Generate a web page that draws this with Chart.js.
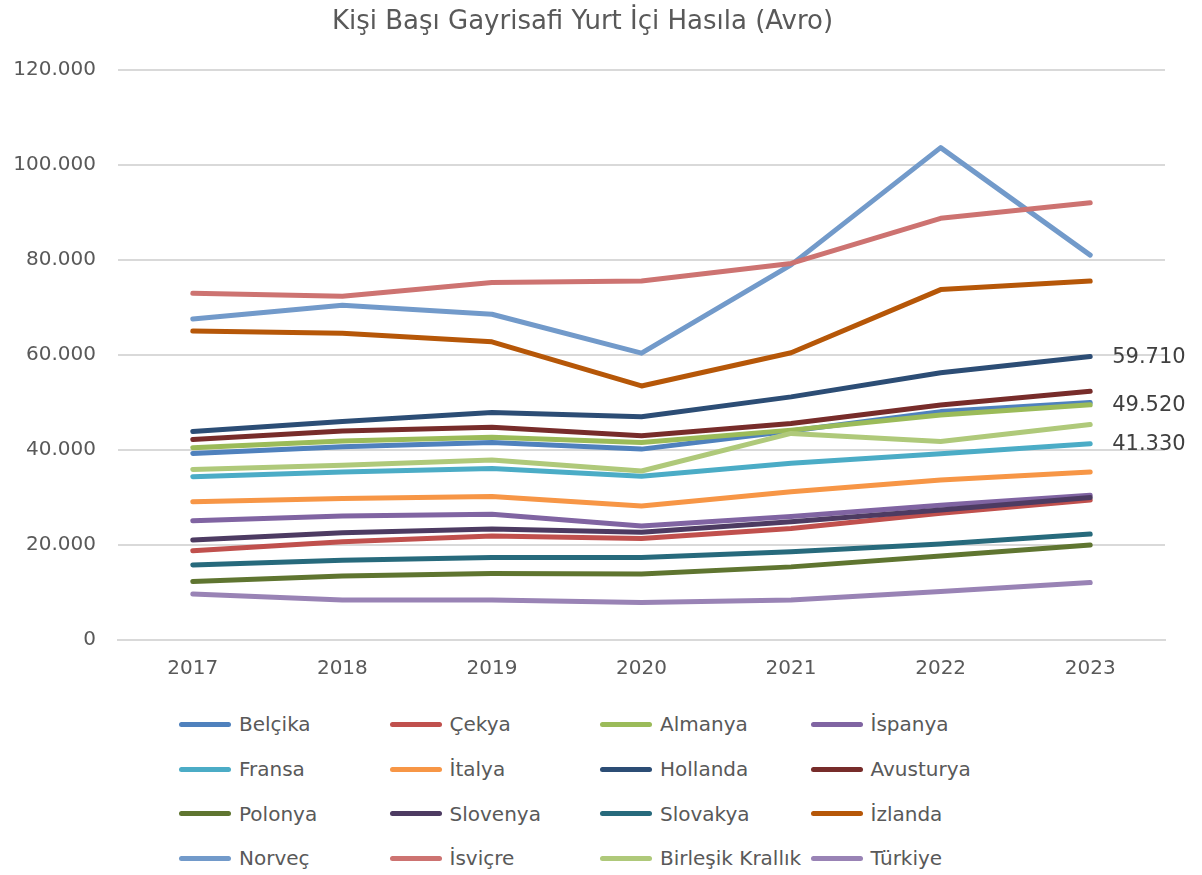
<!DOCTYPE html>
<html lang="tr">
<head>
<meta charset="UTF-8">
<title>Kişi Başı Gayrisafi Yurt İçi Hasıla (Avro)</title>
<script src="https://cdn.jsdelivr.net/npm/chart.js@4.4.1/dist/chart.umd.min.js"></script>
<style>
    body { margin: 0; background: #fff; }
    .wrap { position: relative; width: 1202px; height: 875px; }
    #chartBox { position: absolute; left: 0; top: 0; width: 1202px; height: 700px; }
    #legend {
        position: absolute; left: 179px; top: 702px;
        display: grid; grid-template-columns: repeat(4, 210.5px); grid-auto-rows: 44.7px;
        font-family: "DejaVu Sans", sans-serif; font-size: 20px; color: #595959;
    }
    .item { display: flex; align-items: center; white-space: nowrap; }
    .swatch { width: 52px; height: 5px; border-radius: 3px; margin-right: 8px; flex: none; }
</style>
</head>
<body>
<div class="wrap">
    <div id="chartBox"><canvas id="gdp"></canvas></div>
    <div id="legend"></div>
</div>
<script>
    // values (euro per person)
    const years = ['2017', '2018', '2019', '2020', '2021', '2022', '2023'];
    const yTicks = [0, 20000, 40000, 60000, 80000, 100000, 120000];

    const belcika   = [39300, 40700, 41600, 40200, 44000, 48100, 50000];
    const cekya     = [18800, 20700, 21900, 21400, 23500, 26700, 29500];
    const almanya   = [40500, 41900, 42700, 41600, 44200, 47400, 49520];
    const ispanya   = [25100, 26100, 26500, 24000, 26000, 28400, 30500];
    const fransa    = [34400, 35400, 36100, 34500, 37200, 39200, 41330];
    const italya    = [29100, 29800, 30200, 28200, 31200, 33700, 35400];
    const hollanda  = [43900, 46000, 47900, 47000, 51200, 56300, 59710];
    const avusturya = [42200, 44000, 44800, 43000, 45600, 49500, 52400];
    const polonya   = [12300, 13500, 14000, 13900, 15400, 17700, 20000];
    const slovenya  = [21050, 22600, 23400, 22700, 24900, 27400, 30000];
    const slovakya  = [15800, 16800, 17400, 17400, 18600, 20200, 22300];
    const izlanda   = [65050, 64600, 62800, 53500, 60500, 73800, 75600];
    const norvec    = [67600, 70500, 68600, 60400, 79000, 103700, 81050];
    const isvicre   = [73000, 72400, 75300, 75600, 79300, 88800, 92100];
    const birlesik  = [35900, 36800, 37900, 35600, 43500, 41800, 45400];
    const turkiye   = [9700, 8400, 8400, 7900, 8400, 10200, 12100];

    // series that get a value label at the last point
    const labelled = ['Hollanda', 'Almanya', 'Fransa'];

    const series = [
        ['Belçika', belcika, '#4F81BD'],
        ['Çekya', cekya, '#C0504D'],
        ['Almanya', almanya, '#9BBB59'],
        ['İspanya', ispanya, '#8064A2'],
        ['Fransa', fransa, '#4BACC6'],
        ['İtalya', italya, '#F79646'],
        ['Hollanda', hollanda, '#2C4D75'],
        ['Avusturya', avusturya, '#772C2A'],
        ['Polonya', polonya, '#5F7530'],
        ['Slovenya', slovenya, '#4D3B62'],
        ['Slovakya', slovakya, '#276A7C'],
        ['İzlanda', izlanda, '#B65708'],
        ['Norveç', norvec, '#729ACA'],
        ['İsviçre', isvicre, '#CD7371'],
        ['Birleşik Krallık', birlesik, '#AFC97A'],
        ['Türkiye', turkiye, '#9983B5']
    ];

    function fmt(v) {
        return String(Math.round(v)).replace(/\B(?=(\d{3})+(?!\d))/g, '.');
    }

    // draws the value of the last point for a few series
    const endLabels = {
        id: 'endLabels',
        afterDatasetsDraw(chart) {
            const ctx = chart.ctx;
            ctx.save();
            ctx.font = '21px "DejaVu Sans", sans-serif';
            ctx.fillStyle = '#404040';
            ctx.textAlign = 'left';
            ctx.textBaseline = 'middle';
            chart.data.datasets.forEach((ds, i) => {
                if (!labelled.includes(ds.label)) return;
                const pts = chart.getDatasetMeta(i).data;
                const last = pts[pts.length - 1];
                ctx.fillText(fmt(ds.data[ds.data.length - 1]), last.x + 22, last.y + 1);
            });
            ctx.restore();
        }
    };

    const ctx = document.getElementById('gdp').getContext('2d');
    const chart = new Chart(ctx, {
        type: 'line',
        data: {
            labels: years,
            datasets: series.map((s, i) => ({
                label: s[0],
                data: s[1],
                borderColor: s[2],
                backgroundColor: s[2],
                borderWidth: 5,
                borderCapStyle: 'round',
                borderJoinStyle: 'round',
                pointRadius: 0,
                tension: 0,
                fill: false,
                order: -i
            }))
        },
        options: {
            responsive: true,
            maintainAspectRatio: false,
            animation: false,
            layout: { padding: { left: 0, right: 37, top: 0, bottom: 2 } },
            scales: {
                x: {
                    offset: true,
                    grid: { display: false, drawTicks: false },
                    border: { color: '#d9d9d9', width: 2 },
                    ticks: {
                        color: '#595959',
                        padding: 17,
                        font: { family: '"DejaVu Sans", sans-serif', size: 20 }
                    }
                },
                y: {
                    min: 0,
                    max: 120000,
                    afterBuildTicks(scale) {
                        scale.ticks = yTicks.map(v => ({ value: v }));
                    },
                    afterFit(scale) { scale.width = 118; },
                    grid: { color: '#d9d9d9', lineWidth: 2, drawTicks: false },
                    border: { display: false },
                    ticks: {
                        color: '#595959',
                        padding: 22,
                        font: { family: '"DejaVu Sans", sans-serif', size: 20 },
                        callback: v => fmt(v)
                    }
                }
            },
            plugins: {
                legend: { display: false },
                tooltip: { enabled: false },
                title: {
                    display: true,
                    text: 'Kişi Başı Gayrisafi Yurt İçi Hasıla (Avro)',
                    color: '#595959',
                    font: { family: '"DejaVu Sans", sans-serif', size: 26, weight: 'normal' },
                    padding: { top: 7, bottom: 32 }
                }
            }
        },
        plugins: [endLabels]
    });

    // legend in four fixed columns like the original
    const legend = document.getElementById('legend');
    series.forEach(s => {
        const item = document.createElement('div');
        item.className = 'item';
        item.innerHTML = '<span class="swatch" style="background:' + s[2] + '"></span>' + s[0];
        legend.appendChild(item);
    });
</script>
</body>
</html>
